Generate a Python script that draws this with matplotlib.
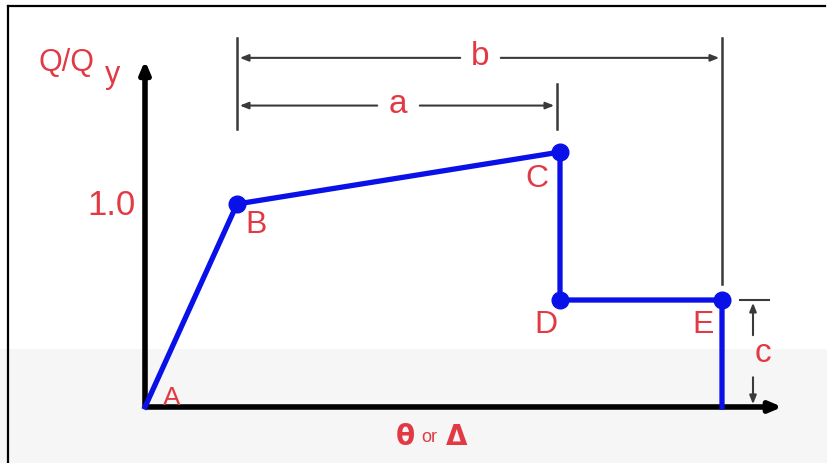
import matplotlib
matplotlib.use("Agg")
import matplotlib.pyplot as plt
from matplotlib.patches import Rectangle

plt.rcParams['font.family'] = ['Liberation Sans', 'DejaVu Sans']

# generalized force-deformation curve, points A..E then drop to zero
points = ['A', 'B', 'C', 'D', 'E']
disp = [0.0, 0.92, 4.15, 4.15, 5.77, 5.77]
force = [0.0, 1.0, 1.256, 0.527, 0.527, 0.0]

RED = '#e23a44'
BLUE = '#0a10e8'
DIM = '#3a3a3a'

fig = plt.figure(figsize=(8.27, 4.64), dpi=100)
ax = fig.add_axes([0, 0, 1, 1])
# 100 px per unit of deformation, 203 px per unit of Q/Qy, origin at pixel (145, 408)
ax.set_xlim(-1.45, 6.82)
ax.set_ylim(-0.276, 2.010)
ax.axis('off')

# faint background band at the bottom (watermark area)
ax.add_patch(Rectangle((-1.45, -0.276), 8.3, 0.56, color='#f6f6f6', zorder=0, lw=0))

# border
ax.plot([-1.37, 6.80], [1.975, 1.975], color='black', lw=1.6, zorder=1)
ax.plot([-1.37, -1.37], [-0.28, 1.975], color='black', lw=1.6, zorder=1)

# axes with arrows
ax.annotate('', xy=(0, 1.72), xytext=(0, -0.01),
            arrowprops=dict(arrowstyle='-|>,head_length=0.7,head_width=0.3', color='black', lw=4))
ax.annotate('', xy=(6.40, 0), xytext=(-0.01, 0),
            arrowprops=dict(arrowstyle='-|>,head_length=0.7,head_width=0.3', color='black', lw=4))

# curve
ax.plot(disp, force, color=BLUE, lw=3.8, zorder=5, solid_joinstyle='round')
ax.plot(disp[1:5], force[1:5], 'o', color=BLUE, ms=12, zorder=6)

# point labels
lbl_off = {'A': (0.27, 0.05), 'B': (0.19, -0.10), 'C': (-0.23, -0.13),
           'D': (-0.14, -0.12), 'E': (-0.19, -0.12)}
for i, p in enumerate(points):
    dx, dy = lbl_off[p]
    ax.text(disp[i] + dx, force[i] + dy, p, color=RED, fontsize=23 if p != 'A' else 19,
            ha='center', va='center', zorder=7)

ax.text(-0.09, 1.0, '1.0', color=RED, fontsize=25, ha='right', va='center')
ax.text(-1.06, 1.70, 'Q/Q', color=RED, fontsize=22, ha='left', va='center')
ax.text(-0.40, 1.64, 'y', color=RED, fontsize=22, ha='left', va='center')

# dimension lines
arr = dict(arrowstyle='-|>,head_length=0.5,head_width=0.2', color=DIM, lw=1.5)
xa, xb, xc = disp[1], disp[2] - 0.03, disp[4]
ya, yb = 1.485, 1.72
ax.plot([xa, xa], [1.37, 1.82], color=DIM, lw=1.8)
ax.plot([xc, xc], [0.606, 1.82], color=DIM, lw=1.8)
ax.plot([xb, xb], [1.37, 1.59], color=DIM, lw=1.8)
# a
ax.annotate('', xy=(xa, ya), xytext=(2.35, ya), arrowprops=arr)
ax.annotate('', xy=(xb, ya), xytext=(2.72, ya), arrowprops=arr)
ax.text(2.53, ya + 0.01, 'a', color=RED, fontsize=24, ha='center', va='center')
# b
ax.annotate('', xy=(xa, yb), xytext=(3.18, yb), arrowprops=arr)
ax.annotate('', xy=(xc, yb), xytext=(3.53, yb), arrowprops=arr)
ax.text(3.35, yb + 0.01, 'b', color=RED, fontsize=24, ha='center', va='center')
# c
xd = 6.08
ax.plot([5.95, 6.24], [force[4], force[4]], color=DIM, lw=1.5)
ax.annotate('', xy=(xd, force[4]), xytext=(xd, 0.34), arrowprops=arr)
ax.annotate('', xy=(xd, 0.0), xytext=(xd, 0.16), arrowprops=arr)
ax.text(6.18, 0.27, 'c', color=RED, fontsize=24, ha='center', va='center')

# horizontal axis label
ax.text(2.60, -0.145, 'θ', color=RED, fontsize=20, fontweight='bold', ha='center', va='center',
        family=['DejaVu Sans'])
ax.text(2.84, -0.145, 'or', color=RED, fontsize=13, ha='center', va='center')
ax.text(3.12, -0.145, 'Δ', color=RED, fontsize=20, fontweight='bold', ha='center', va='center',
        family=['DejaVu Sans'])

fig.savefig('out.png', dpi=100)
